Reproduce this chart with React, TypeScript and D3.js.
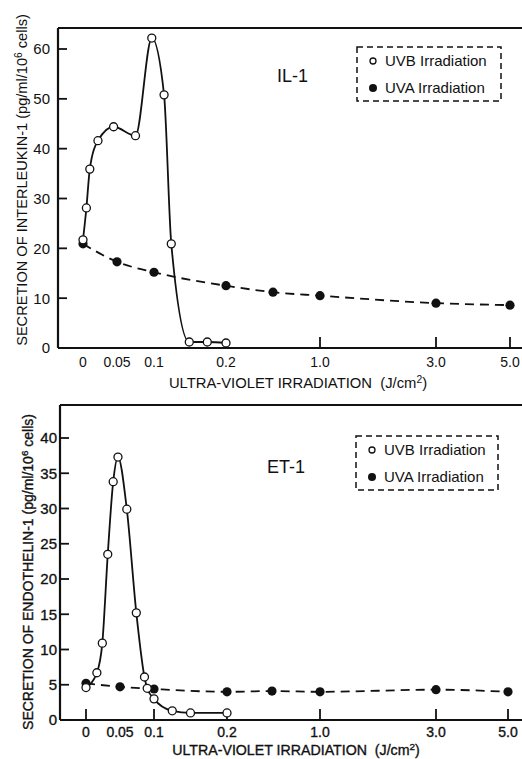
import React from "react";
import * as d3 from "d3";

// dose axis: tick positions and labels (J/cm2)
const doseTicks = [0, 0.05, 0.1, 0.2, 1.0, 3.0, 5.0];
const doseTickLabels = ["0", "0.05", "0.1", "0.2", "1.0", "3.0", "5.0"];
const doseBreaks = [0, 0.05, 0.1, 0.2, 0.5, 1.0, 3.0, 5.0];

// UVA doses are shared by both panels
const uvaDoses = [0, 0.05, 0.1, 0.2, 0.5, 1.0, 3.0, 5.0];

// IL-1 panel
const il1UvbDoses = [0, 0.005, 0.01, 0.022, 0.045, 0.075, 0.097, 0.114, 0.124, 0.149, 0.174, 0.2];
const il1UvbValues = [21.7, 28.1, 35.9, 41.6, 44.4, 42.6, 62.2, 50.8, 20.9, 1.2, 1.2, 1.0];
const il1UvaValues = [20.9, 17.3, 15.2, 12.5, 11.2, 10.5, 9.0, 8.6];
const il1Ticks = [0, 10, 20, 30, 40, 50, 60];

// ET-1 panel
const et1UvbDoses = [0, 0.016, 0.024, 0.032, 0.04, 0.047, 0.06, 0.074, 0.086, 0.09, 0.1, 0.125, 0.15, 0.2];
const et1UvbValues = [4.6, 6.7, 10.9, 23.5, 33.8, 37.3, 29.9, 15.2, 6.1, 4.5, 3.0, 1.3, 1.0, 1.0];
const et1UvaValues = [5.2, 4.7, 4.4, 4.0, 4.1, 4.0, 4.3, 4.0];
const et1Ticks = [0, 5, 10, 15, 20, 25, 30, 35, 40];

const FONT = "'Liberation Sans', Arial, Helvetica, sans-serif";

type PanelCfg = {
  left: number;
  top: number;
  bottom: number;
  xRange: number[];
  yDomain: number[];
  yRange: number[];
  yTicks: number[];
  tickMarks: number[];
  uvbDoses: number[];
  uvbValues: number[];
  uvaValues: number[];
  title: string;
  titleX: number;
  titleY: number;
  legend: { x: number; y: number; w: number; h: number };
  yLabelMain: string;
  yLabelX: number;
  yLabelY: number;
  yLabelSize: number;
  yTickRight: number;
  xLabelY: number;
  xTitleX: number;
  xTitleY: number;
  xTitleSize: number;
  ink: number; // extra stroke on text, the lower scan is heavier
};

function Panel({ c }: { c: PanelCfg }) {
  const x = d3.scaleLinear().domain(doseBreaks).range(c.xRange);
  const y = d3.scaleLinear().domain(c.yDomain).range(c.yRange);

  const line = d3
    .line<[number, number]>()
    .x((d) => x(d[0]))
    .y((d) => y(d[1]))
    .curve(d3.curveMonotoneX);

  const uvb: [number, number][] = c.uvbDoses.map((d, i) => [d, c.uvbValues[i]]);
  const uva: [number, number][] = uvaDoses.map((d, i) => [d, c.uvaValues[i]]);

  const ink = c.ink > 0 ? { stroke: "#111", strokeWidth: c.ink } : {};

  return (
    <g fontFamily={FONT} fill="#111">
      {/* frame: top line, left axis, bottom axis */}
      <line x1={c.left} x2={522} y1={c.top} y2={c.top} stroke="#111" strokeWidth={2.2} />
      <line x1={c.left} x2={c.left} y1={c.top} y2={c.bottom} stroke="#111" strokeWidth={2.2} />
      <line x1={c.left} x2={522} y1={c.bottom} y2={c.bottom} stroke="#111" strokeWidth={2.2} />

      {/* y ticks */}
      {c.yTicks.map((t) => (
        <g key={t}>
          <line x1={c.left} x2={c.left + 9} y1={y(t)} y2={y(t)} stroke="#111" strokeWidth={1.8} />
          <text x={c.yTickRight} y={y(t)} dy="0.36em" textAnchor="end" fontSize={15} {...ink}>
            {t}
          </text>
        </g>
      ))}

      {/* x ticks */}
      {c.tickMarks.map((t) => (
        <line key={t} x1={x(t)} x2={x(t)} y1={c.bottom} y2={c.bottom - 11} stroke="#111" strokeWidth={1.8} />
      ))}
      {doseTicks.map((t, i) => (
        <text key={t} x={x(t)} y={c.xLabelY} textAnchor="middle" fontSize={14} {...ink}>
          {doseTickLabels[i]}
        </text>
      ))}

      {/* UVA dashed curve */}
      <path d={line(uva) || ""} fill="none" stroke="#111" strokeWidth={1.8} strokeDasharray="9,6" />
      {/* UVB solid curve */}
      <path d={line(uvb) || ""} fill="none" stroke="#111" strokeWidth={1.8} />

      {uva.map((d, i) => (
        <circle key={"a" + i} cx={x(d[0])} cy={y(d[1])} r={4.6} fill="#111" />
      ))}
      {uvb.map((d, i) => (
        <circle key={"b" + i} cx={x(d[0])} cy={y(d[1])} r={4} fill="#fff" stroke="#111" strokeWidth={1.3} />
      ))}

      {/* panel title */}
      <text x={c.titleX} y={c.titleY} fontSize={18}>
        {c.title}
      </text>

      {/* legend */}
      <rect
        x={c.legend.x}
        y={c.legend.y}
        width={c.legend.w}
        height={c.legend.h}
        fill="none"
        stroke="#111"
        strokeWidth={1.5}
        strokeDasharray="6,4"
      />
      <circle cx={c.legend.x + 16} cy={c.legend.y + 14} r={3} fill="#fff" stroke="#111" strokeWidth={1.3} />
      <text x={c.legend.x + 28} y={c.legend.y + 14} dy="0.36em" fontSize={15}>
        UVB Irradiation
      </text>
      <circle cx={c.legend.x + 16} cy={c.legend.y + 41} r={4} fill="#111" />
      <text x={c.legend.x + 28} y={c.legend.y + 41} dy="0.36em" fontSize={15}>
        UVA Irradiation
      </text>

      {/* y axis title */}
      <text
        transform={`translate(${c.yLabelX},${c.yLabelY}) rotate(-90)`}
        textAnchor="middle"
        fontSize={c.yLabelSize}
        {...ink}
      >
        {c.yLabelMain}
        <tspan baselineShift="super" fontSize={c.yLabelSize * 0.7}>
          6
        </tspan>
        <tspan> cells)</tspan>
      </text>

      {/* x axis title */}
      <text x={c.xTitleX} y={c.xTitleY} textAnchor="middle" fontSize={c.xTitleSize} {...ink}>
        {"ULTRA-VIOLET IRRADIATION\u00a0\u00a0(J/cm"}
        <tspan baselineShift="super" fontSize={c.xTitleSize * 0.7}>
          2
        </tspan>
        <tspan>)</tspan>
      </text>
    </g>
  );
}

const topPanel: PanelCfg = {
  left: 58,
  top: 28,
  bottom: 348,
  xRange: [83, 117, 154, 226, 273, 320, 436, 510],
  yDomain: [0, 60],
  yRange: [348, 49],
  yTicks: il1Ticks,
  tickMarks: [1.0, 3.0, 5.0],
  uvbDoses: il1UvbDoses,
  uvbValues: il1UvbValues,
  uvaValues: il1UvaValues,
  title: "IL-1",
  titleX: 277,
  titleY: 82,
  legend: { x: 357, y: 47, w: 144, h: 54 },
  yLabelMain: "SECRETION OF INTERLEUKIN-1 (pg/ml/10",
  yLabelX: 27,
  yLabelY: 180,
  yLabelSize: 14.6,
  yTickRight: 50,
  xLabelY: 367,
  xTitleX: 298,
  xTitleY: 388,
  xTitleSize: 14.8,
  ink: 0,
};

const bottomPanel: PanelCfg = {
  left: 60,
  top: 405,
  bottom: 720,
  xRange: [86, 120, 154, 227, 272, 320, 436, 508],
  yDomain: [0, 40],
  yRange: [720, 438],
  yTicks: et1Ticks,
  tickMarks: [0, 0.1, 0.2, 1.0, 3.0, 5.0],
  uvbDoses: et1UvbDoses,
  uvbValues: et1UvbValues,
  uvaValues: et1UvaValues,
  title: "ET-1",
  titleX: 267,
  titleY: 473,
  legend: { x: 356, y: 436, w: 142, h: 54 },
  yLabelMain: "SECRETION OF ENDOTHELIN-1 (pg/ml/10",
  yLabelX: 33,
  yLabelY: 572,
  yLabelSize: 14,
  yTickRight: 57,
  xLabelY: 737,
  xTitleX: 296,
  xTitleY: 755,
  xTitleSize: 14.2,
  ink: 0.35,
};

export default function App() {
  return (
    <svg
      width={522}
      height={759}
      style={{ position: "absolute", left: 0, top: 0, background: "#fff" }}
    >
      <rect width={522} height={759} fill="#fff" />
      <Panel c={topPanel} />
      <Panel c={bottomPanel} />
    </svg>
  );
}
